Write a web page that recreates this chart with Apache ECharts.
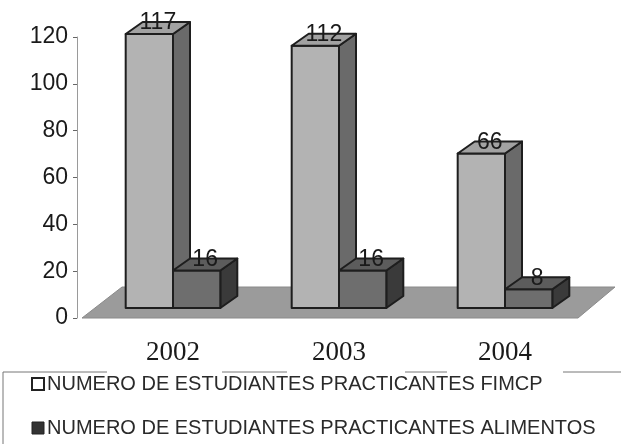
<!DOCTYPE html>
<html>
<head>
<meta charset="utf-8">
<script src="https://cdn.jsdelivr.net/npm/echarts@6/dist/echarts.min.js"></script>
<style>
  html, body { margin: 0; padding: 0; background: #fff; }
  #chart { width: 621px; height: 444px; }
</style>
</head>
<body>
<div id="chart"></div>
<script>
// datos
const years = ['2002', '2003', '2004'];
const fimcp = [117, 112, 66];
const alimentos = [16, 16, 8];
const seriesNames = [
  'NUMERO DE ESTUDIANTES PRACTICANTES FIMCP',
  'NUMERO DE ESTUDIANTES PRACTICANTES ALIMENTOS'
];

// efecto 3D
const DX = 17, DY = -12, SHIFT_Y = -10;
const faces = [
  { front: '#b3b3b3', top: '#a2a2a2', side: '#6a6a6a' },
  { front: '#6e6e6e', top: '#5c5c5c', side: '#3a3a3a' }
];
const edge = '#1e1e1e';

function barRenderer(idx) {
  return function (params, api) {
    const cat = api.value(0), v = api.value(1);
    const base = api.coord([cat, 0]);
    const top = api.coord([cat, v]);
    const bw = api.size([1, 0])[0] * 0.285;
    const x0 = idx === 0 ? base[0] - bw : base[0];
    const x1 = x0 + bw;
    const yb = base[1] + SHIFT_Y, yt = top[1] + SHIFT_Y;
    const f = faces[idx];
    const st = (c) => ({ fill: c, stroke: edge, lineWidth: 2, lineJoin: 'round' });
    return {
      type: 'group',
      children: [
        { type: 'polygon', shape: { points: [[x1, yt], [x1 + DX, yt + DY], [x1 + DX, yb + DY], [x1, yb]] }, style: st(f.side) },
        { type: 'rect', shape: { x: x0, y: yt, width: bw, height: yb - yt }, style: st(f.front) },
        { type: 'polygon', shape: { points: [[x0, yt], [x1, yt], [x1 + DX, yt + DY], [x0 + DX, yt + DY]] }, style: st(f.top) },
        { type: 'text', x: (x0 + x1) / 2 + DX / 2, y: yt + DY / 2 - 5,
          style: { text: String(v), fill: '#1a1a1a', font: '23px "Liberation Sans", Arial, sans-serif', align: 'center', verticalAlign: 'middle' } }
      ]
    };
  };
}

function floorRenderer(params, api) {
  const p0 = api.coord([0, 0]);
  const p2 = api.coord([years.length - 1, 0]);
  const cw = api.size([1, 0])[0];
  const left = p0[0] - cw / 2, right = p2[0] + cw / 2, y = p0[1];
  return {
    type: 'polygon',
    shape: { points: [[left - 8, y], [right - 10, y], [right + 27, y - 31], [left + 32, y - 31]] },
    style: { fill: '#9b9b9b', stroke: '#8a8a8a', lineWidth: 1 }
  };
}

const chart = echarts.init(document.getElementById('chart'));
chart.setOption({
  animation: false,
  grid: { left: 90, right: 33, top: 37, bottom: 126 },
  xAxis: {
    type: 'category',
    data: years,
    axisLine: { show: false },
    axisTick: { show: false },
    axisLabel: { margin: 21, fontSize: 27, color: '#1a1a1a', fontFamily: '"Liberation Serif", "Times New Roman", serif' }
  },
  yAxis: {
    type: 'value',
    min: 0, max: 120, interval: 20,
    offset: 13,
    axisLine: { show: true, lineStyle: { color: '#9a9a9a', width: 1 } },
    axisTick: { show: true, length: 4, lineStyle: { color: '#666' } },
    splitLine: { show: false },
    axisLabel: { margin: 9, fontSize: 23, color: '#1a1a1a', fontFamily: '"Liberation Sans", Arial, sans-serif' }
  },
  legend: {
    orient: 'vertical',
    left: 31, top: 374, height: 70,
    padding: 0,
    itemWidth: 12, itemHeight: 12, itemGap: 24,
    textStyle: { fontSize: 20, color: '#2a2a2a', fontFamily: '"Liberation Sans", Arial, sans-serif', padding: [0, 0, 0, -2] },
    data: [
      { name: seriesNames[0], icon: 'rect', itemStyle: { color: '#ffffff', borderColor: '#222', borderWidth: 2 } },
      { name: seriesNames[1], icon: 'rect', itemStyle: { color: '#333333', borderColor: '#222', borderWidth: 1 } }
    ]
  },
  graphic: [
    { type: 'line', shape: { x1: 3, y1: 372, x2: 3, y2: 444 }, style: { stroke: '#777', lineWidth: 1 } },
    { type: 'line', shape: { x1: 3, y1: 372, x2: 107, y2: 372 }, style: { stroke: '#777', lineWidth: 1 } },
    { type: 'line', shape: { x1: 222, y1: 372, x2: 287, y2: 372 }, style: { stroke: '#777', lineWidth: 1 } },
    { type: 'line', shape: { x1: 405, y1: 372, x2: 447, y2: 372 }, style: { stroke: '#777', lineWidth: 1 } },
    { type: 'line', shape: { x1: 563, y1: 372, x2: 621, y2: 372 }, style: { stroke: '#777', lineWidth: 1 } }
  ],
  series: [
    { type: 'custom', name: 'floor', silent: true, z: 1, renderItem: floorRenderer, data: [[0, 0]] },
    { type: 'custom', name: seriesNames[0], z: 2, renderItem: barRenderer(0),
      itemStyle: { color: '#ffffff' }, data: fimcp.map((v, i) => [i, v]) },
    { type: 'custom', name: seriesNames[1], z: 3, renderItem: barRenderer(1),
      itemStyle: { color: '#333333' }, data: alimentos.map((v, i) => [i, v]) }
  ]
});
</script>
</body>
</html>
